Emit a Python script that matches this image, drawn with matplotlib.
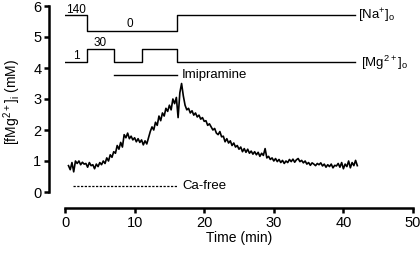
import numpy as np
import matplotlib
matplotlib.use("Agg")
import matplotlib.pyplot as plt

plt.rcParams['font.family'] = ['Liberation Sans', 'DejaVu Sans']
plt.rcParams['mathtext.default'] = 'regular'

# fMg trace (mM), sampled every 0.25 min from 0.5 to 42 min
trace_t = np.arange(0.5, 42.01, 0.25)
trace_mg = [0.85, 0.72,
            0.95, 0.65, 1.0, 0.92,
            1.0, 0.88, 0.96, 0.9,
            0.92, 0.8, 0.95, 0.85,
            0.88, 0.75, 0.9, 0.82,
            0.95, 0.88, 1.0, 0.92,
            1.1, 1.0, 1.2, 1.12,
            1.3, 1.25, 1.5, 1.38,
            1.6, 1.45, 1.85, 1.75,
            1.9, 1.72, 1.8, 1.68,
            1.75, 1.62, 1.72, 1.6,
            1.68, 1.52, 1.65, 1.55,
            1.75, 1.95, 2.1, 2.0,
            2.25, 2.15, 2.45, 2.3,
            2.55, 2.45, 2.7, 2.6,
            2.8, 2.65, 3.0, 2.85,
            3.05, 2.4, 3.2, 3.5,
            3.1, 2.8, 2.65, 2.7,
            2.55, 2.62, 2.48, 2.55,
            2.42, 2.48, 2.35, 2.4,
            2.28, 2.3, 2.15, 2.2,
            2.1, 2.0, 2.05, 1.9,
            1.85, 1.95, 1.78, 1.8,
            1.62, 1.72, 1.58, 1.65,
            1.5, 1.58, 1.45, 1.5,
            1.38, 1.45, 1.3, 1.4,
            1.28, 1.38, 1.25, 1.32,
            1.22, 1.3, 1.2, 1.28,
            1.15, 1.25, 1.18, 1.4,
            1.1, 1.15, 1.05, 1.1,
            1.0, 1.08, 0.98, 1.05,
            0.95, 1.02, 0.92, 1.0,
            0.95, 1.05, 0.98, 1.06,
            0.96, 1.04, 1.08, 0.98,
            1.02, 0.94, 1.0, 0.9,
            0.95, 0.86, 0.94, 0.9,
            0.85, 0.92, 0.88, 0.94,
            0.84, 0.9, 0.8, 0.88,
            0.82, 0.9, 0.78, 0.86,
            0.84, 0.92, 0.8, 0.95,
            0.75, 0.9, 0.82, 1.0,
            0.78, 0.95, 0.85, 1.02,
            0.85]

# protocol steps (time in min, y position on chart)
na_t = [0, 3.2, 3.2, 16.1, 16.1, 41.7]
na_y = [5.7, 5.7, 5.2, 5.2, 5.7, 5.7]
mg_t = [0, 3.2, 3.2, 7.0, 7.0, 11.0, 11.0, 16.1, 16.1, 41.7]
mg_y = [4.2, 4.2, 4.6, 4.6, 4.2, 4.2, 4.6, 4.6, 4.2, 4.2]
imi_t = [7.0, 16.1]
imi_y = 3.77
ca_t = [1.1, 16.1]
ca_y = 0.2

fig = plt.figure(figsize=(4.2, 2.54), dpi=100)
ax = fig.add_axes([65 / 420, 62 / 254, 348 / 420, 186 / 254])

ax.plot(trace_t, trace_mg, color='black', lw=1.2)
ax.plot(na_t, na_y, color='black', lw=1)
ax.plot(mg_t, mg_y, color='black', lw=1)
ax.plot(imi_t, [imi_y, imi_y], color='black', lw=1)
ax.plot(ca_t, [ca_y, ca_y], color='black', lw=0.9, ls=(0, (1.8, 1.2)))

ax.text(1.6, 5.88, '140', fontsize=8.5, ha='center', va='center')
ax.text(9.3, 5.43, '0', fontsize=8.5, ha='center', va='center')
ax.text(1.6, 4.38, '1', fontsize=8.5, ha='center', va='center')
ax.text(5.0, 4.82, '30', fontsize=8.5, ha='center', va='center')
ax.text(42.1, 5.68, '[Na$^{+}$]$_{o}$', fontsize=9.5, ha='left', va='center')
ax.text(42.5, 4.18, '[Mg$^{2+}$]$_{o}$', fontsize=9.5, ha='left', va='center')
ax.text(16.8, 3.77, 'Imipramine', fontsize=9.5, ha='left', va='center')
ax.text(16.8, 0.2, 'Ca-free', fontsize=9.5, ha='left', va='center')

ax.set_xlim(0, 50)
ax.set_ylim(0, 6)
ax.set_xticks([0, 10, 20, 30, 40, 50])
ax.set_yticks([0, 1, 2, 3, 4, 5, 6])
ax.spines['top'].set_visible(False)
ax.spines['right'].set_visible(False)
ax.spines['left'].set_position(('outward', 11.5))
ax.spines['bottom'].set_position(('outward', 11.5))
ax.spines['left'].set_linewidth(1.8)
ax.spines['bottom'].set_linewidth(1.8)
ax.tick_params(axis='both', width=1.8, length=3.5, labelsize=10.5, pad=2)
ax.set_xlabel('Time (min)', fontsize=10, labelpad=1)
fig.text(12 / 420, 0.6, '[fMg$^{2+}$]$_{i}$ (mM)', fontsize=10,
         rotation=90, ha='center', va='center')

fig.savefig('out.png', dpi=100)
